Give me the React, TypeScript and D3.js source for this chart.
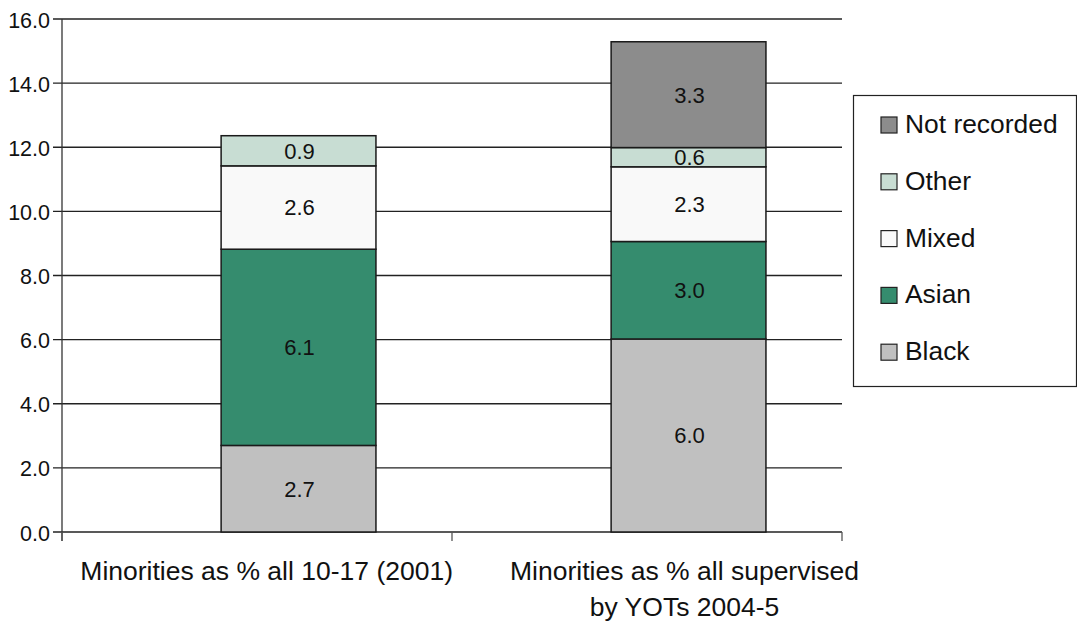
import * as d3 from 'd3';

const categories = ['2001', '2004-5'];
const categoryLines = [
  ['Minorities as % all 10-17 (2001)'],
  ['Minorities as % all supervised', 'by YOTs 2004-5'],
];
const seriesNames = ['Black', 'Asian', 'Mixed', 'Other', 'Not recorded'];
const seriesColors = ['#c0c0c0', '#358c6e', '#f9f9f9', '#c8ddd3', '#8c8c8c'];
const black = [2.7, 6.02];
const asian = [6.12, 3.04];
const mixed = [2.6, 2.33];
const other = [0.94, 0.6];
const notRecorded = [0, 3.3];
const yTicks = [0, 2, 4, 6, 8, 10, 12, 14, 16];

const FONT = 'Arial, "Liberation Sans", sans-serif';

const width = 1077;
const height = 623;
const margin = { top: 19, right: 235, bottom: 91, left: 62 };

export default function App() {
  const rows = categories.map((c, i) => ({
    cat: c,
    Black: black[i],
    Asian: asian[i],
    Mixed: mixed[i],
    Other: other[i],
    'Not recorded': notRecorded[i],
  }));
  const stacked = d3.stack<any>().keys(seriesNames)(rows);

  const x = d3
    .scaleBand()
    .domain(categories)
    .range([margin.left, width - margin.right]);
  const bw = x.bandwidth();
  const y = d3
    .scaleLinear()
    .domain([0, 16])
    .range([height - margin.bottom, margin.top]);

  // bars sit right of the band centre, as in the original
  const barX = (c: string) => (x(c) as number) + bw * 0.408;
  const barW = bw * 0.397;

  const x0 = margin.left;
  const x1 = width - margin.right;
  const yBase = y(0);

  return (
    <div style={{ position: 'absolute', left: 0, top: 0 }}>
      <svg width={width} height={height} style={{ display: 'block', fontFamily: FONT }}>
        <rect width={width} height={height} fill="#fff" />
        {/* gridlines + y ticks */}
        {yTicks.map((t) => (
          <g key={t}>
            <line x1={x0 - 9} x2={x1} y1={y(t)} y2={y(t)} stroke="#222" strokeWidth={1.3} />
            <text
              x={x0 - 12}
              y={y(t)}
              dy="0.4em"
              textAnchor="end"
              fontSize={21.5}
              fill="#111"
            >
              {t.toFixed(1)}
            </text>
          </g>
        ))}
        {/* y axis */}
        <line x1={x0} x2={x0} y1={y(16)} y2={yBase + 9} stroke="#333" strokeWidth={1.3} />
        {/* x ticks */}
        {[...categories.map((c) => x(c) as number), x1].map((tx, i) => (
          <line key={i} x1={tx} x2={tx} y1={yBase} y2={yBase + 9} stroke="#555" strokeWidth={1.3} />
        ))}

        {/* bars */}
        {stacked.map((s, si) =>
          s.map((d, i) => {
            const v = d[1] - d[0];
            if (v <= 0) return null;
            const c = categories[i];
            return (
              <g key={`${si}-${i}`}>
                <rect
                  x={barX(c)}
                  y={y(d[1])}
                  width={barW}
                  height={y(d[0]) - y(d[1])}
                  fill={seriesColors[si]}
                  stroke="#1a1a1a"
                  strokeWidth={1.5}
                />
                <text
                  x={barX(c) + barW / 2 + 1}
                  y={y((d[0] + d[1]) / 2)}
                  dy="0.36em"
                  textAnchor="middle"
                  fontSize={22}
                  fill="#111"
                >
                  {v.toFixed(1)}
                </text>
              </g>
            );
          })
        )}

        {/* category labels */}
        {categories.map((c, i) => {
          const lines = categoryLines[i];
          const anchorEnd = i === 0;
          const lx = anchorEnd ? (x(c) as number) + bw + 1 : barX(c) + barW / 2 - 4;
          return (
            <text
              key={c}
              x={lx}
              y={yBase + 48}
              textAnchor={anchorEnd ? 'end' : 'middle'}
              fontSize={26.5}
              fill="#111"
            >
              {lines.map((l, li) => (
                <tspan key={li} x={lx} dy={li === 0 ? 0 : 35.5}>
                  {l}
                </tspan>
              ))}
            </text>
          );
        })}

        {/* legend */}
        <rect x={853.5} y={95.5} width={223} height={291} fill="#fff" stroke="#222" strokeWidth={1.2} />
        {seriesNames
          .slice()
          .reverse()
          .map((n, i) => {
            const si = seriesNames.indexOf(n);
            const ly = 133 + i * 56.8;
            return (
              <g key={n}>
                <rect
                  x={881}
                  y={ly - 16}
                  width={16}
                  height={16}
                  fill={seriesColors[si]}
                  stroke="#222"
                  strokeWidth={1.2}
                />
                <text x={905} y={ly} fontSize={26.4} fill="#111">
                  {n}
                </text>
              </g>
            );
          })}
      </svg>
    </div>
  );
}
